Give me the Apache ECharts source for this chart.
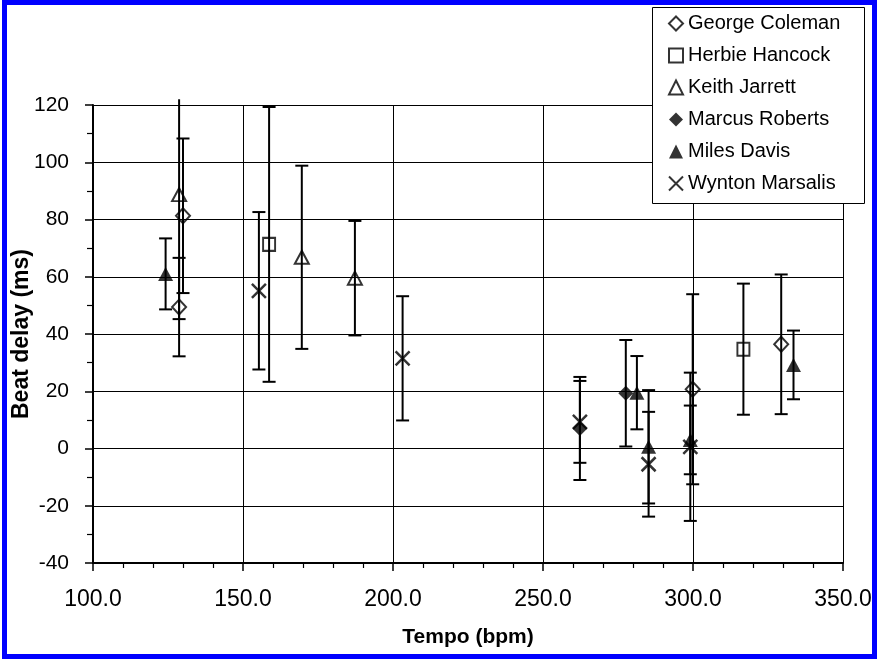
<!DOCTYPE html>
<html>
<head>
<meta charset="utf-8">
<script src="https://cdn.jsdelivr.net/npm/echarts@6/dist/echarts.min.js"></script>
<style>
html,body{margin:0;padding:0;background:#fff;}
#chart{width:879px;height:660px;}
</style>
</head>
<body>
<div id="chart"></div>
<script>
// ---- data ----
var artists = ['George Coleman','Herbie Hancock','Keith Jarrett','Marcus Roberts','Miles Davis','Wynton Marsalis'];

var colemanTempo = [128.7, 130.0, 299.9, 329.4];
var colemanDelay = [49.4, 81.3, 20.7, 36.4];
var colemanErr   = [17.2, 27.0, 33.2, 24.4];

var hancockTempo = [158.7, 316.8];
var hancockDelay = [71.3, 34.7];
var hancockErr   = [48.0, 22.9];

var jarrettTempo = [128.7, 169.6, 187.3];
var jarrettDelay = [88.7, 66.8, 59.5];
var jarrettErr   = [43.5, 32.0, 20.0];

var robertsTempo = [262.3, 277.6];
var robertsDelay = [7.0, 19.3];
var robertsErr   = [18.0, 18.6];

var davisTempo = [124.2, 281.3, 285.2, 299.1, 333.5];
var davisDelay = [61.0, 19.5, 0.6, 3.0, 29.2];
var davisErr   = [12.4, 12.8, 19.8, 12.0, 12.0];

var marsalisTempo = [155.3, 203.2, 262.3, 285.2, 299.1];
var marsalisDelay = [55.1, 31.5, 9.3, -5.5, 0.6];
var marsalisErr   = [27.5, 21.7, 14.3, 18.3, 25.9];

var xTicks = {min: 100, max: 350, interval: 50};
var yTicks = {min: -40, max: 120, interval: 20};
var errorClipTop = 122;

// ---- build ----
function pts(xs, ys) { return xs.map(function (x, i) { return [x, ys[i]]; }); }
function errPts(xs, ys, es) { return xs.map(function (x, i) { return [x, ys[i], es[i]]; }); }

var allErr = [].concat(
  errPts(colemanTempo, colemanDelay, colemanErr),
  errPts(hancockTempo, hancockDelay, hancockErr),
  errPts(jarrettTempo, jarrettDelay, jarrettErr),
  errPts(robertsTempo, robertsDelay, robertsErr),
  errPts(davisTempo, davisDelay, davisErr),
  errPts(marsalisTempo, marsalisDelay, marsalisErr)
);

var FONT = '"Liberation Sans", Arial, sans-serif';
var crossPath = 'path://M0,0L10,10M10,0L0,10';

var hollow = {color: 'rgba(0,0,0,0)', borderColor: '#000', borderWidth: 2};
var filled = {color: '#000', borderColor: '#000', borderWidth: 0};

var chart = echarts.init(document.getElementById('chart'), null, {renderer: 'canvas'});
chart.setOption({
  animation: false,
  backgroundColor: '#fff',
  grid: {left: 93, right: 36, top: 105, bottom: 97, containLabel: false, outerBoundsMode: 'none'},
  graphic: [
    {type: 'rect', shape: {x: 4.5, y: 2.5, width: 870, height: 654},
     style: {fill: 'none', stroke: '#0000ff', lineWidth: 5}, z: 100},
    {type: 'rect', shape: {x: 652.5, y: 7.5, width: 212, height: 196},
     style: {fill: '#fff', stroke: '#000', lineWidth: 1}, z: 4}
  ],
  legend: {
    data: artists,
    orient: 'vertical',
    left: 668, top: 13,
    itemWidth: 14, itemHeight: 14,
    itemGap: 11,
    padding: 0,
    textStyle: {fontFamily: FONT, fontSize: 20, color: '#000', lineHeight: 21},
    z: 5
  },
  xAxis: {
    type: 'value', min: xTicks.min, max: xTicks.max, interval: xTicks.interval,
    name: 'Tempo (bpm)', nameLocation: 'middle', nameGap: 64, nameMoveOverlap: false,
    nameTextStyle: {fontFamily: FONT, fontSize: 21, fontWeight: 'bold', color: '#000'},
    axisLine: {show: true, onZero: false, lineStyle: {color: '#000', width: 2}},
    axisTick: {show: true, length: 8, lineStyle: {color: '#000', width: 1.5}},
    minorTick: {show: true, splitNumber: 5, length: 5, lineStyle: {color: '#000', width: 1.2}},
    axisLabel: {fontFamily: FONT, fontSize: 23, color: '#000', margin: 25,
      formatter: function (v) { return v.toFixed(1); }},
    splitLine: {show: true, lineStyle: {color: '#000', width: 1}}
  },
  yAxis: {
    type: 'value', min: yTicks.min, max: yTicks.max, interval: yTicks.interval,
    name: 'Beat delay (ms)', nameLocation: 'middle', nameGap: 60, nameMoveOverlap: false,
    nameTextStyle: {fontFamily: FONT, fontSize: 23, fontWeight: 'bold', color: '#000'},
    axisLine: {show: true, onZero: false, lineStyle: {color: '#000', width: 2}},
    axisTick: {show: true, length: 8, lineStyle: {color: '#000', width: 1.5}},
    minorTick: {show: true, splitNumber: 2, length: 6, lineStyle: {color: '#000', width: 1.2}},
    axisLabel: {fontFamily: FONT, fontSize: 21, color: '#000', margin: 24},
    splitLine: {show: true, lineStyle: {color: '#000', width: 1}}
  },
  series: [
    {
      name: 'errors', type: 'custom', z: 2, clip: false,
      data: allErr,
      renderItem: function (params, api) {
        var x = api.value(0), y = api.value(1), e = api.value(2);
        var hi = y + e, lo = y - e;
        var top = api.coord([x, Math.min(hi, errorClipTop)]);
        var bot = api.coord([x, lo]);
        var hw = 6.5;
        var st = {stroke: '#000', lineWidth: 2};
        var ch = [
          {type: 'line', shape: {x1: top[0], y1: top[1], x2: bot[0], y2: bot[1]}, style: st},
          {type: 'line', shape: {x1: bot[0] - hw, y1: bot[1], x2: bot[0] + hw, y2: bot[1]}, style: st}
        ];
        if (hi <= errorClipTop) {
          ch.push({type: 'line', shape: {x1: top[0] - hw, y1: top[1], x2: top[0] + hw, y2: top[1]}, style: st});
        }
        return {type: 'group', children: ch};
      }
    },
    {name: artists[0], type: 'scatter', z: 3, symbol: 'diamond', symbolSize: [14, 15],
     itemStyle: hollow, data: pts(colemanTempo, colemanDelay)},
    {name: artists[1], type: 'scatter', z: 3, symbol: 'rect', symbolSize: [12, 13],
     itemStyle: hollow, data: pts(hancockTempo, hancockDelay)},
    {name: artists[2], type: 'scatter', z: 3, symbol: 'triangle', symbolSize: [14, 13],
     itemStyle: hollow, data: pts(jarrettTempo, jarrettDelay)},
    {name: artists[3], type: 'scatter', z: 3, symbol: 'diamond', symbolSize: [15, 15],
     itemStyle: filled, data: pts(robertsTempo, robertsDelay)},
    {name: artists[4], type: 'scatter', z: 3, symbol: 'triangle', symbolSize: [15, 14],
     itemStyle: filled, data: pts(davisTempo, davisDelay)},
    {name: artists[5], type: 'scatter', z: 3, symbol: crossPath, symbolSize: [14, 14],
     itemStyle: {color: 'rgba(0,0,0,0)', borderColor: '#000', borderWidth: 2.5},
     data: pts(marsalisTempo, marsalisDelay)}
  ]
});
</script>
</body>
</html>
